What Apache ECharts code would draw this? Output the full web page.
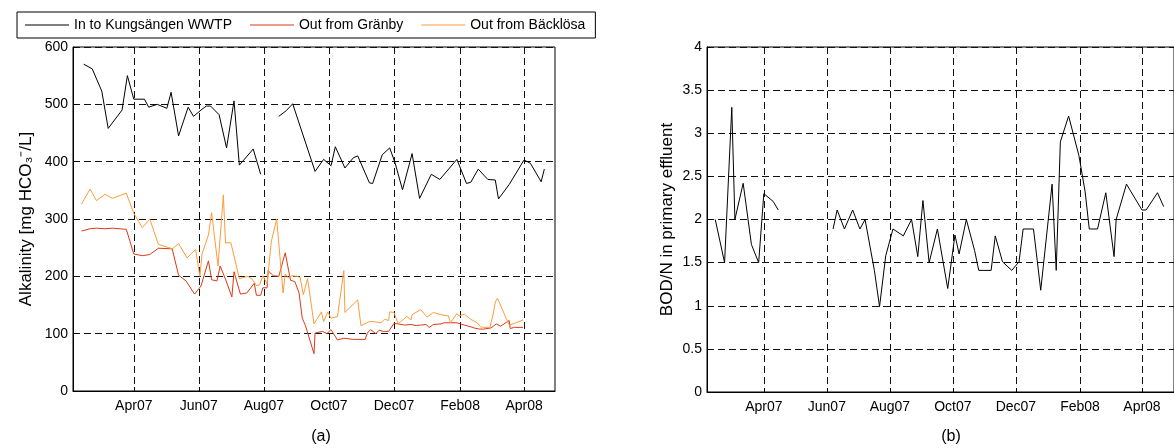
<!DOCTYPE html>
<html>
<head>
    <meta charset="utf-8">
    <title>Alkalinity and BOD/N</title>
    <script src="https://cdn.jsdelivr.net/npm/echarts@6/dist/echarts.min.js"></script>
    <style>
        html, body { margin: 0; padding: 0; background: #fff; }
        #chart1 { width: 1174px; height: 448px; }
    </style>
</head>
<body>
<div id="chart1"></div>
<script type="text/javascript">
    // (a) alkalinity [mg HCO3-/L]
    var inDates = ['2007-02-13','2007-02-21','2007-03-02','2007-03-08','2007-03-21','2007-03-26',
        '2007-04-01','2007-04-11','2007-04-15','2007-04-23','2007-05-02','2007-05-06',
        '2007-05-13','2007-05-22','2007-05-27','2007-06-03','2007-06-08','2007-06-12',
        '2007-06-20','2007-06-27','2007-07-04','2007-07-09','2007-07-22','2007-07-29',
        '2007-08-07',
        '2007-08-15','2007-08-22','2007-08-28','2007-09-18','2007-09-26','2007-10-03',
        '2007-10-07','2007-10-16','2007-10-24','2007-10-28','2007-11-08','2007-11-11',
        '2007-11-20','2007-11-27','2007-12-02','2007-12-09','2007-12-18','2007-12-25',
        '2008-01-05','2008-01-13','2008-01-29','2008-02-07','2008-02-11','2008-02-18',
        '2008-02-27','2008-03-05','2008-03-08','2008-03-18','2008-04-01','2008-04-07',
        '2008-04-17','2008-04-20'];
    var inValues = [570,562,523,458,490,550,
        509,509,495,500,493,521,
        445,495,479,490,497,497,
        482,424,506,394,422,378,
        null,
        479,489,501,383,404,393,
        426,389,407,410,363,362,
        412,424,398,351,414,336,
        378,369,404,362,364,387,
        369,368,335,360,403,397,
        365,387];

    var granbyDates = ['2007-02-11','2007-02-19','2007-02-25','2007-03-05','2007-03-12','2007-03-25',
        '2007-04-01','2007-04-09','2007-04-16','2007-04-24','2007-05-07','2007-05-13',
        '2007-05-20','2007-05-28','2007-06-03','2007-06-10','2007-06-13','2007-06-18',
        '2007-06-21','2007-06-26','2007-07-02','2007-07-04','2007-07-10','2007-07-16',
        '2007-07-23','2007-07-25','2007-07-29','2007-07-31','2007-08-04','2007-08-05',
        '2007-08-08','2007-08-10','2007-08-15','2007-08-21','2007-08-26','2007-08-30',
        '2007-09-03','2007-09-06','2007-09-09','2007-09-17','2007-09-18','2007-09-25',
        '2007-09-29','2007-10-03','2007-10-09','2007-10-15','2007-10-24','2007-11-04',
        '2007-11-06','2007-11-09','2007-11-14','2007-11-17','2007-11-21','2007-11-26',
        '2007-12-01','2007-12-05','2007-12-11','2007-12-17','2007-12-22','2007-12-26',
        '2007-12-31','2008-01-03','2008-01-07','2008-01-14','2008-01-17','2008-01-23',
        '2008-01-29','2008-02-05','2008-02-11','2008-02-14','2008-02-19','2008-02-23',
        '2008-03-01','2008-03-06','2008-03-10','2008-03-18','2008-03-19','2008-03-23',
        '2008-03-31'];
    var granbyValues = [279,283,284,283,284,282,
        239,236,238,249,248,202,
        192,169,183,227,194,192,
        218,195,164,208,169,171,
        188,167,167,180,180,210,
        204,201,200,241,193,191,
        171,127,114,65,101,104,
        100,107,89,92,90,90,
        101,107,100,106,104,104,
        118,117,115,116,114,115,
        116,111,116,117,119,119,
        119,115,112,110,108,108,
        110,117,113,123,109,111,
        111];

    var backlosaDates = ['2007-02-11','2007-02-19','2007-02-25','2007-03-05','2007-03-12','2007-03-19',
        '2007-03-25','2007-04-01','2007-04-09','2007-04-16','2007-04-24','2007-05-07',
        '2007-05-13','2007-05-21','2007-05-29','2007-06-02','2007-06-04','2007-06-10',
        '2007-06-13','2007-06-19','2007-06-24','2007-06-26','2007-07-01','2007-07-09',
        '2007-07-17','2007-07-21','2007-07-25','2007-07-28','2007-07-31','2007-08-04',
        '2007-08-08','2007-08-13','2007-08-19','2007-08-21','2007-08-24','2007-08-27',
        '2007-09-01','2007-09-04','2007-09-07','2007-09-11','2007-09-17','2007-09-24',
        '2007-09-26','2007-09-30','2007-10-03','2007-10-09','2007-10-15','2007-10-16',
        '2007-10-28','2007-10-31','2007-11-08','2007-11-12','2007-11-19','2007-11-22',
        '2007-11-26','2007-11-27','2007-12-01','2007-12-05','2007-12-13','2007-12-17',
        '2007-12-18','2007-12-26','2008-01-01','2008-01-07','2008-01-14','2008-01-21',
        '2008-01-23','2008-01-29','2008-01-31','2008-02-05','2008-02-11','2008-02-17',
        '2008-02-20','2008-02-23','2008-02-29','2008-03-03','2008-03-05','2008-03-07',
        '2008-03-18','2008-03-23','2008-03-31'];
    var backlosaValues = [326,352,332,343,336,341,
        345,310,285,300,256,248,
        257,232,247,200,239,272,
        311,218,342,258,259,196,
        200,195,184,185,201,187,
        261,300,171,204,197,201,
        200,198,168,196,117,138,
        121,138,127,130,210,137,
        159,114,121,121,119,125,
        123,138,137,117,130,124,
        133,142,129,137,133,131,
        119,135,131,134,125,119,
        112,111,111,134,155,162,
        115,118,124];

    // (b) BOD/N in primary effluent
    var bodnDates = ['2007-02-13','2007-02-22','2007-03-01','2007-03-04','2007-03-12','2007-03-20',
        '2007-03-27','2007-04-01','2007-04-10','2007-04-15',
        '2007-05-10',
        '2007-06-07','2007-06-11','2007-06-18','2007-06-26','2007-07-03','2007-07-08',
        '2007-07-17','2007-07-22','2007-07-28','2007-08-04','2007-08-14','2007-08-22',
        '2007-08-28','2007-09-02','2007-09-08','2007-09-16','2007-09-26','2007-10-03',
        '2007-10-07','2007-10-14','2007-10-22','2007-10-26','2007-11-07','2007-11-11',
        '2007-11-18','2007-11-27','2007-12-04','2007-12-08','2007-12-18','2007-12-25',
        '2008-01-05','2008-01-09','2008-01-13','2008-01-21','2008-01-31','2008-02-06',
        '2008-02-10','2008-02-18','2008-02-26','2008-03-05','2008-03-07','2008-03-17',
        '2008-04-01','2008-04-05','2008-04-16','2008-04-22'];
    var bodnValues = [2.0,1.5,3.3,2.0,2.42,1.71,
        1.5,2.3,2.21,2.11,
        null,
        1.89,2.11,1.89,2.11,1.89,2.0,
        1.41,0.99,1.58,1.89,1.81,2.0,
        1.57,2.22,1.5,1.89,1.2,1.82,
        1.6,2.0,1.64,1.41,1.41,1.81,
        1.51,1.41,1.51,1.89,1.89,1.18,
        2.41,1.41,2.9,3.2,2.74,2.32,
        1.89,1.89,2.31,1.57,2.0,2.41,
        2.11,2.11,2.31,2.15];

    // x ticks every second month
    var tickDates = ['2007-04-01','2007-06-01','2007-08-01','2007-10-01','2007-12-01','2008-02-01','2008-04-01'];
    var monthNames = ['Jan','Feb','Mar','Apr','May','Jun','Jul','Aug','Sep','Oct','Nov','Dec'];

    function toTime(s) {
        var p = s.split('-');
        return Date.UTC(+p[0], +p[1] - 1, +p[2]);
    }
    function pairs(dates, values) {
        return dates.map(function (d, i) { return [toTime(d), values[i]]; });
    }
    var tickTimes = tickDates.map(toTime);

    var font = "'Liberation Sans', Arial, sans-serif";
    var gridLine = { show: true, lineStyle: { color: '#111', type: [7, 4], width: 1 } };

    // dates are kept as ms on a value axis so the ticks can sit on the 1st of every second month
    function xAxis(idx, min, max) {
        return {
            type: 'value', gridIndex: idx,
            min: toTime(min), max: toTime(max),
            axisLine: { lineStyle: { color: '#000' } },
            axisTick: { inside: true, length: 4, customValues: tickTimes, lineStyle: { color: '#000' } },
            axisLabel: {
                customValues: tickTimes, color: '#000', fontFamily: font, fontSize: 14, margin: 8,
                formatter: function (v) {
                    var d = new Date(v);
                    return monthNames[d.getUTCMonth()] + String(d.getUTCFullYear()).slice(2);
                }
            },
            splitLine: gridLine
        };
    }
    function yAxis(idx, max, step, name, gap) {
        return {
            type: 'value', gridIndex: idx, min: 0, max: max, interval: step,
            name: name, nameLocation: 'middle', nameGap: gap,
            nameTextStyle: { color: '#000', fontFamily: font, fontSize: 17 },
            axisLine: { show: true, lineStyle: { color: '#000' } },
            axisTick: { show: true, inside: true, length: 4, lineStyle: { color: '#000' } },
            axisLabel: { color: '#000', fontFamily: font, fontSize: 14, margin: 5 },
            splitLine: gridLine
        };
    }

    var myChart1 = echarts.init(document.getElementById('chart1'));
    myChart1.setOption({
        animation: false,
        backgroundColor: '#fff',
        grid: [
            { left: 73, top: 47, width: 482, height: 344, show: true, borderColor: '#000', borderWidth: 1 },
            { left: 707, top: 47, width: 482, height: 345, show: true, borderColor: '#000', borderWidth: 1 }
        ],
        legend: {
            left: 17, top: 12,
            padding: [6, 10, 6, 8], itemGap: 18, itemWidth: 44, itemHeight: 1,
            icon: 'rect',
            borderColor: '#000', borderWidth: 1,
            textStyle: { color: '#000', fontFamily: font, fontSize: 14 },
            data: ['In to Kungsängen WWTP', 'Out from Gränby', 'Out from Bäcklösa']
        },
        xAxis: [
            xAxis(0, '2007-02-03', '2008-04-30'),
            xAxis(1, '2007-02-05', '2008-05-02')
        ],
        yAxis: [
            yAxis(0, 600, 100, 'Alkalinity [mg HCO₃⁻/L]', 38),
            yAxis(1, 4, 0.5, 'BOD/N in primary effluent', 31)
        ],
        graphic: [
            { type: 'text', x: 321, y: 437, style: { text: '(a)', fill: '#000', fontFamily: font, fontSize: 16, align: 'center', verticalAlign: 'middle' } },
            { type: 'text', x: 951, y: 437, style: { text: '(b)', fill: '#000', fontFamily: font, fontSize: 16, align: 'center', verticalAlign: 'middle' } }
        ],
        series: [
            { name: 'In to Kungsängen WWTP', type: 'line', xAxisIndex: 0, yAxisIndex: 0, symbol: 'none',
              lineStyle: { color: '#000', width: 1 }, itemStyle: { color: '#000' }, data: pairs(inDates, inValues) },
            { name: 'Out from Gränby', type: 'line', xAxisIndex: 0, yAxisIndex: 0, symbol: 'none',
              lineStyle: { color: '#dc3a16', width: 1 }, itemStyle: { color: '#dc3a16' }, data: pairs(granbyDates, granbyValues) },
            { name: 'Out from Bäcklösa', type: 'line', xAxisIndex: 0, yAxisIndex: 0, symbol: 'none',
              lineStyle: { color: '#fb9d3a', width: 1 }, itemStyle: { color: '#fb9d3a' }, data: pairs(backlosaDates, backlosaValues) },
            { name: 'BOD/N', type: 'line', xAxisIndex: 1, yAxisIndex: 1, symbol: 'none',
              lineStyle: { color: '#000', width: 1 }, itemStyle: { color: '#000' }, data: pairs(bodnDates, bodnValues) }
        ]
    });
</script>
</body>
</html>
